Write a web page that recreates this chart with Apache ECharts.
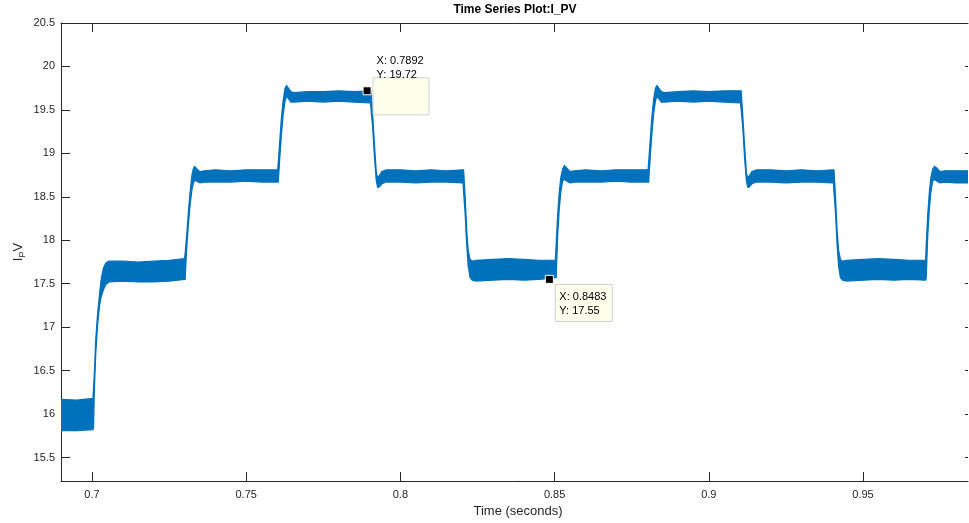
<!DOCTYPE html>
<html><head><meta charset="utf-8">
<script src="https://cdn.jsdelivr.net/npm/echarts@6/dist/echarts.min.js"></script>
<style>html,body{margin:0;padding:0;background:#fff}#c{width:969px;height:523px}</style>
</head><body><div id="c"></div>
<script>
// time (s) of envelope samples
const timeS = [
0.6900,0.6950,0.7003,0.7005,0.7008,0.7012,0.7018,0.7025,0.7030,0.7037,0.7045,0.7055,
0.7100,0.7150,0.7200,0.7250,0.7300,0.7302,0.7307,0.7313,0.7318,0.7324,0.7329,0.7333,0.7340,0.7350,0.7365,
0.7400,0.7450,0.7500,0.7550,0.7602,0.7604,0.7609,0.7614,0.7620,0.7626,0.7631,0.7637,0.7645,0.7655,
0.7700,0.7750,0.7800,0.7850,0.7903,0.7905,0.7910,0.7916,0.7922,0.7926,0.7931,0.7940,0.7955,
0.8000,0.8050,0.8100,0.8150,0.8203,0.8205,0.8210,0.8215,0.8220,0.8226,0.8233,0.8245,
0.8300,0.8350,0.8400,0.8450,0.8483,0.8502,0.8505,0.8510,0.8515,0.8520,0.8526,0.8532,0.8540,0.8550,0.8565,
0.8600,0.8650,0.8700,0.8750,0.8803,0.8805,0.8810,0.8815,0.8821,0.8827,0.8832,0.8838,0.8846,0.8856,
0.8900,0.8950,0.9000,0.9050,0.9103,0.9105,0.9110,0.9116,0.9122,0.9126,0.9131,0.9140,0.9155,
0.9200,0.9250,0.9300,0.9350,0.9404,0.9406,0.9411,0.9416,0.9421,0.9427,0.9434,0.9446,
0.9500,0.9550,0.9600,0.9650,0.9703,0.9705,0.9710,0.9715,0.9720,0.9726,0.9732,0.9740,0.9750,0.9765,
0.9800,0.9865];
// upper envelope of I_PV ripple band
const upperA = [
16.17,16.16,16.18,16.30,16.50,16.85,17.15,17.40,17.56,17.68,17.74,17.76,
17.76,17.75,17.76,17.77,17.79,17.85,18.05,18.35,18.55,18.75,18.83,18.85,18.82,18.79,18.80,
18.81,18.80,18.81,18.81,18.81,18.90,19.15,19.40,19.62,19.75,19.78,19.75,19.71,19.70,
19.71,19.71,19.72,19.71,19.72,19.72,19.45,19.10,18.78,18.72,18.74,18.79,18.81,
18.81,18.80,18.81,18.80,18.81,18.81,18.50,18.12,17.88,17.78,17.76,17.77,
17.78,17.79,17.78,17.77,17.77,17.77,17.95,18.30,18.55,18.72,18.82,18.86,18.83,18.79,18.80,
18.81,18.80,18.81,18.81,18.81,18.90,19.15,19.40,19.62,19.75,19.78,19.75,19.71,19.70,
19.71,19.72,19.71,19.72,19.72,19.72,19.45,19.10,18.78,18.72,18.74,18.79,18.81,
18.81,18.80,18.81,18.80,18.81,18.81,18.50,18.12,17.88,17.78,17.76,17.77,
17.78,17.79,17.78,17.77,17.77,17.95,18.30,18.55,18.72,18.82,18.85,18.83,18.79,18.80,
18.80,18.80];
// lower envelope of I_PV ripple band
const lowerA = [
15.81,15.81,15.82,15.84,16.30,16.68,17.02,17.26,17.35,17.43,17.49,17.52,
17.53,17.52,17.52,17.53,17.55,17.55,17.90,18.20,18.40,18.58,18.66,18.69,18.68,18.66,18.67,
18.67,18.67,18.68,18.67,18.67,18.67,18.95,19.20,19.45,19.60,19.66,19.63,19.59,19.59,
19.60,19.59,19.60,19.59,19.58,19.50,19.30,18.95,18.68,18.61,18.61,18.65,18.67,
18.67,18.66,18.67,18.67,18.66,18.55,18.30,17.95,17.70,17.57,17.54,17.53,
17.54,17.55,17.54,17.55,17.56,17.57,17.57,18.05,18.35,18.55,18.68,18.70,18.68,18.66,18.67,
18.67,18.67,18.68,18.67,18.67,18.67,18.95,19.20,19.45,19.60,19.66,19.63,19.59,19.59,
19.60,19.59,19.60,19.59,19.58,19.50,19.30,18.95,18.68,18.61,18.61,18.65,18.67,
18.67,18.66,18.67,18.67,18.66,18.55,18.30,17.95,17.70,17.57,17.54,17.53,
17.54,17.55,17.54,17.55,17.54,17.56,18.05,18.35,18.55,18.68,18.70,18.68,18.66,18.67,
18.66,18.66];
const xTicks = [0.7,0.75,0.8,0.85,0.9,0.95];
const yTicks = [15.5,16,16.5,17,17.5,18,18.5,19,19.5,20,20.5];
const tipX = [0.7892,0.8483];
const tipY = [19.72,17.55];

const FONT = "'Liberation Sans', Arial, Helvetica, sans-serif";
const AX = '#262626';
const BLUE = '#0072BD';
const chart = echarts.init(document.getElementById('c'), null, {renderer:'canvas'});

function xAx(pos, showLabel){
  return {type:'value', position:pos, min:0.68995, max:0.98405,
    axisLine:{show:true,onZero:false,lineStyle:{color:AX,width:1}},
    axisTick:{show:true,inside:true,length:9,customValues:xTicks,lineStyle:{color:AX}},
    axisLabel:{show:showLabel,customValues:xTicks,margin:8,color:AX,fontSize:11,fontFamily:FONT,
      formatter:v=>String(+(+v).toFixed(2))},
    splitLine:{show:false}};
}
function yAx(pos, showLabel){
  return {type:'value', position:pos, min:15.23, max:20.5,
    axisLine:{show:showLabel,onZero:false,lineStyle:{color:AX,width:1}},
    axisTick:{show:true,inside:true,length:showLabel?9:3,customValues:yTicks,lineStyle:{color:AX}},
    axisLabel:{show:showLabel,customValues:yTicks,margin:6,color:AX,fontSize:11,fontFamily:FONT,
      formatter:v=>String(+(+v).toFixed(2))},
    splitLine:{show:false}};
}

chart.setOption({
  animation:false,
  backgroundColor:'#ffffff',
  grid:{left:61,top:23,width:907,height:458,containLabel:false},
  xAxis:[xAx('bottom',true), xAx('top',false)],
  yAxis:[yAx('left',true), yAx('right',false)],
  series:[
    {type:'custom', coordinateSystem:'cartesian2d', xAxisIndex:0, yAxisIndex:0, clip:true,
     data:[[timeS[0], upperA[0]]],
     renderItem:function(params, api){
       const pts=[];
       for(let i=0;i<timeS.length;i++) pts.push(api.coord([timeS[i], upperA[i]]));
       for(let i=timeS.length-1;i>=0;i--) pts.push(api.coord([timeS[i], lowerA[i]]));
       return {type:'polygon', shape:{points:pts}, style:{fill:BLUE, stroke:BLUE, lineWidth:1.2}};
     }},
    {type:'scatter', xAxisIndex:0, yAxisIndex:0, z:10,
     data:tipX.map((x,i)=>[x,tipY[i]]),
     symbol:'rect', symbolSize:8,
     itemStyle:{color:'#000000', borderColor:'#fffff0', borderWidth:1, opacity:1}}
  ]
});

const p1 = chart.convertToPixel({gridIndex:0},[tipX[0],tipY[0]]);
const p2 = chart.convertToPixel({gridIndex:0},[tipX[1],tipY[1]]);
const tipStyle = {fill:'#000', fontSize:11, fontFamily:FONT, verticalAlign:'middle', align:'left'};
chart.setOption({
  graphic:[
    {type:'text', z:100, position:[515,10],
     style:{text:'Time Series Plot:I_PV', fill:'#000', fontSize:12, fontWeight:'bold', fontFamily:FONT, align:'center', verticalAlign:'middle'}},
    {type:'text', z:100, position:[518,511],
     style:{text:'Time (seconds)', fill:AX, fontSize:13, fontFamily:FONT, align:'center', verticalAlign:'middle'}},
    {type:'text', z:100, position:[18,252], rotation:Math.PI/2,
     style:{text:'{a|I}{b|P}{a|V}', align:'center', verticalAlign:'middle', fill:AX, fontFamily:FONT,
       rich:{a:{fontSize:13, lineHeight:18, fill:AX, fontFamily:FONT}, b:{fontSize:9, lineHeight:10, verticalAlign:'bottom', fill:AX, fontFamily:FONT}}}},
    {type:'rect', z:90, shape:{x:p1[0]+6, y:p1[1]-13, width:56, height:37}, style:{fill:'#ffffee', stroke:'#d0d0d0', lineWidth:1}},
    {type:'text', z:100, position:[p1[0]+9.5, p1[1]-30], style:Object.assign({text:'X: '+tipX[0].toFixed(4)}, tipStyle)},
    {type:'text', z:100, position:[p1[0]+9.5, p1[1]-16], style:Object.assign({text:'Y: '+tipY[0].toFixed(2)}, tipStyle)},
    {type:'rect', z:90, shape:{x:p2[0]+6, y:p2[1]+5, width:57, height:37}, style:{fill:'#ffffee', stroke:'#d0d0d0', lineWidth:1}},
    {type:'text', z:100, position:[p2[0]+10, p2[1]+17.5], style:Object.assign({text:'X: '+tipX[1].toFixed(4)}, tipStyle)},
    {type:'text', z:100, position:[p2[0]+10, p2[1]+31.7], style:Object.assign({text:'Y: '+tipY[1].toFixed(2)}, tipStyle)}
  ]
});
</script></body></html>
